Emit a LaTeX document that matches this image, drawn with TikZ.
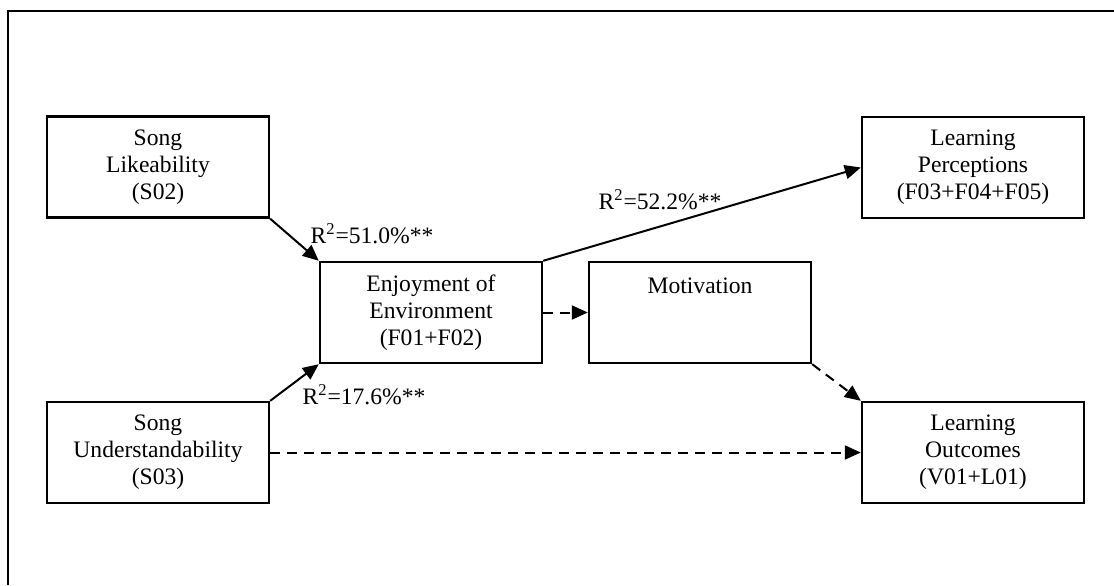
\documentclass[tikz,border=0pt]{standalone}
\usepackage{fontspec}
\setmainfont{Liberation Serif}
\usetikzlibrary{arrows.meta}
\begin{document}
\begin{tikzpicture}[x=0.5pt,y=-0.5pt,
  box/.style={draw,line width=1.2pt,minimum width=111pt,minimum height=50.5pt,align=center,font=\fontsize{11.8}{13.5}\selectfont,inner sep=0pt},
  conn/.style={line width=1pt,-{Triangle[length=8pt,width=7pt]}},
  dconn/.style={conn,dash pattern=on 5pt off 3.5pt},
  lbl/.style={font=\fontsize{11.8}{13.5}\selectfont,inner sep=0pt}]
\useasboundingbox (0,0) rectangle (1114,585);
\coordinate (fl) at (8,585);
\coordinate (fc) at (8,11);
\coordinate (fr) at (1114,11);
\draw[line width=1.3pt] (fl) -- (fc) -- (fr);
\node[box] (s02) at (158,167) {Song\\Likeability\\(S02)};
\node[box] (s03) at (158,452.5) {Song\\Understandability\\(S03)};
\node[box] (enj) at (431,312.5) {Enjoyment of\\Environment\\(F01+F02)};
\node[box] (mot) at (700,312.5) {Motivation\\\phantom{X}\\\phantom{X}};
\node[box] (lp) at (973,167.5) {Learning\\Perceptions\\(F03+F04+F05)};
\node[box] (lo) at (973,452.5) {Learning\\Outcomes\\(V01+L01)};
\draw[conn] (s02.south east) -- (enj.north west);
\draw[conn] (s03.north east) -- (enj.south west);
\draw[conn] (enj.north east) -- (lp.west);
\draw[dconn] (enj.east) -- (mot.west);
\draw[dconn] (mot.south east) -- (lo.north west);
\draw[dconn] (s03.east) -- (lo.west);
\node[lbl] (l1) at (372,234) {R\textsuperscript{2}=51.0\%**};
\node[lbl] (l2) at (364,395) {R\textsuperscript{2}=17.6\%**};
\node[lbl] (l3) at (660,200) {R\textsuperscript{2}=52.2\%**};
\end{tikzpicture}
\end{document}
